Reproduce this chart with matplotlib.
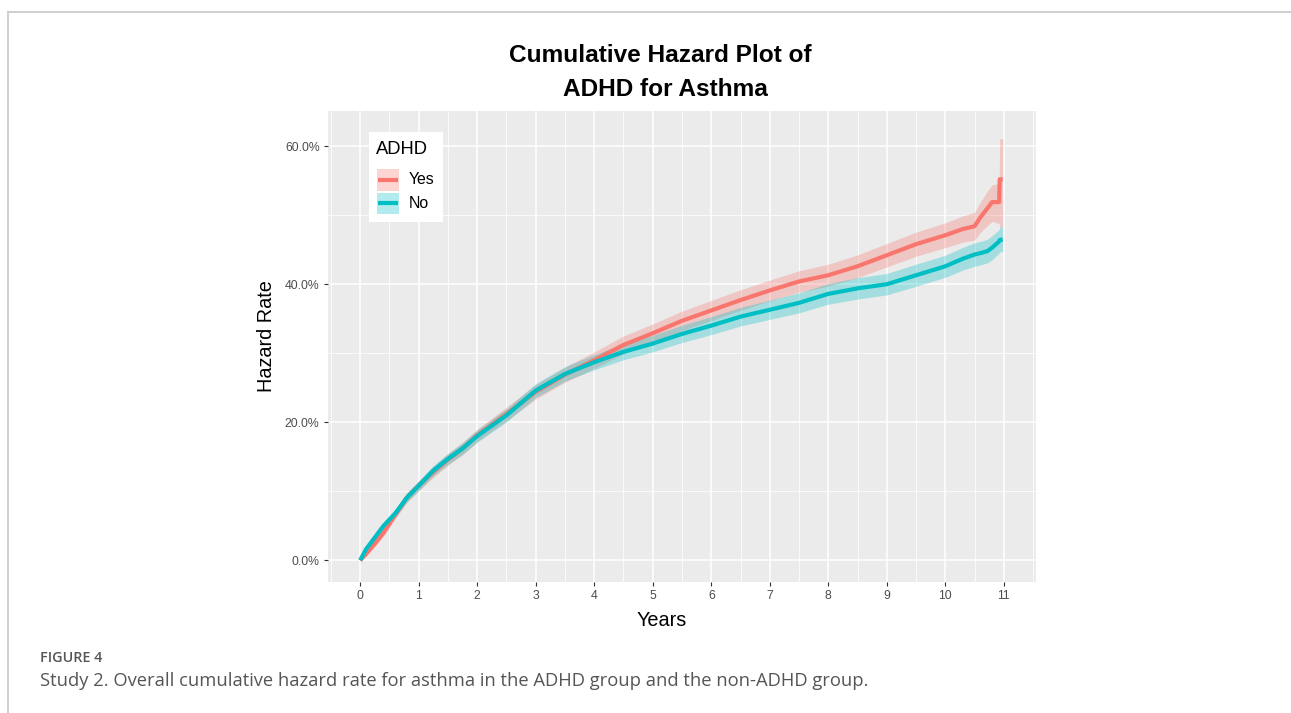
import numpy as np
import matplotlib
matplotlib.use("Agg")
import matplotlib.pyplot as plt
from matplotlib.patches import Rectangle
from matplotlib.lines import Line2D
from matplotlib.ticker import MultipleLocator, FuncFormatter

# -------------------------------------------------------
# Data (hazard in %)
# -------------------------------------------------------
years = [0, 0.1, 0.25, 0.4, 0.6, 0.8, 1.0, 1.25, 1.5, 1.75, 2.0, 2.5, 3.0, 3.5,
         4.0, 4.5, 5.0, 5.5, 6.0, 6.5, 7.0, 7.5, 8.0, 8.5, 9.0, 9.5, 10.0,
         10.3, 10.5, 10.6, 10.72, 10.8, 10.92, 10.93, 10.98]

yes_haz = [0, 0.9, 2.4, 4.0, 6.6, 9.1, 10.8, 12.8, 14.6, 16.2, 18.1, 21.2, 24.4, 26.9,
           29.0, 31.2, 32.9, 34.7, 36.2, 37.7, 39.1, 40.4, 41.3, 42.6, 44.2, 45.8, 47.1,
           48.0, 48.4, 49.7, 51.0, 51.9, 51.9, 55.2, 55.2]
yes_lo = [0, 0.6, 2.0, 3.5, 6.0, 8.4, 10.05, 12.0, 13.75, 15.3, 17.2, 20.2, 23.35, 25.8,
          27.8, 29.9, 31.55, 33.3, 34.75, 36.2, 37.6, 38.85, 39.7, 40.95, 42.5, 44.05, 45.3,
          46.1, 46.4, 47.5, 48.5, 49.1, 48.8, 48.3, 48.3]
yes_hi = [0, 1.2, 2.8, 4.5, 7.2, 9.8, 11.55, 13.6, 15.45, 17.1, 19.0, 22.2, 25.45, 28.0,
          30.2, 32.5, 34.25, 36.1, 37.65, 39.2, 40.6, 41.95, 42.9, 44.25, 45.9, 47.55, 48.9,
          49.9, 50.4, 51.9, 53.5, 54.4, 54.6, 61.1, 61.1]

no_haz = [0, 1.6, 3.3, 5.0, 6.8, 9.1, 10.8, 13.0, 14.7, 16.2, 18.0, 21.0, 24.6, 27.0,
          28.7, 30.2, 31.4, 32.8, 34.0, 35.3, 36.3, 37.3, 38.6, 39.4, 40.0, 41.3, 42.6,
          43.7, 44.3, 44.5, 44.8, 45.3, 46.2, 46.4, 46.5]
no_lo = [0, 1.3, 2.9, 4.5, 6.2, 8.45, 10.1, 12.25, 13.9, 15.35, 17.1, 20.05, 23.6, 25.95,
         27.6, 29.05, 30.2, 31.55, 32.7, 33.95, 34.9, 35.85, 37.1, 37.85, 38.45, 39.7, 41.0,
         42.05, 42.6, 42.8, 43.1, 43.55, 44.5, 44.7, 44.7]
no_hi = [0, 1.9, 3.7, 5.5, 7.4, 9.75, 11.5, 13.75, 15.5, 17.05, 18.9, 21.95, 25.6, 28.05,
         29.8, 31.35, 32.6, 34.05, 35.3, 36.65, 37.7, 38.75, 40.1, 40.95, 41.55, 42.9, 44.2,
         45.35, 46.0, 46.2, 46.5, 47.05, 47.9, 48.3, 48.3]

groups = ["Yes", "No"]
colors = ["#F8766D", "#00BFC4"]
x_ticks = list(range(0, 12))
y_ticks = [0, 20, 40, 60]

# -------------------------------------------------------
# Figure
# -------------------------------------------------------
W, H = 1291, 713
fig = plt.figure(figsize=(W / 100, H / 100), dpi=100)
plt.rcParams["font.family"] = ["Liberation Sans", "DejaVu Sans"]


def fx(px):
    return px / W


def fy(py):
    return 1 - py / H


# page frame (top and left rules)
fig.add_artist(Line2D([fx(7.5), 1], [fy(11.5), fy(11.5)], color="#cccccc", lw=1.3))
fig.add_artist(Line2D([fx(7.5), fx(7.5)], [fy(11.5), 0], color="#cccccc", lw=1.3))

ax = fig.add_axes([fx(328), fy(582), fx(1036) - fx(328), fy(111) - fy(582)])
ax.set_facecolor("#EBEBEB")
for s in ax.spines.values():
    s.set_visible(False)

ax.set_xlim(-0.55, 11.55)
ax.set_ylim(-3.15, 65.1)
ax.xaxis.set_major_locator(MultipleLocator(1))
ax.xaxis.set_minor_locator(MultipleLocator(0.5))
ax.set_yticks(y_ticks)
ax.yaxis.set_minor_locator(MultipleLocator(10))
ax.yaxis.set_major_formatter(FuncFormatter(lambda v, p: f"{v:.1f}%"))
ax.set_xticks(x_ticks)

ax.grid(which="major", color="white", lw=1.1)
ax.grid(which="minor", color="white", lw=0.55)
ax.set_axisbelow(True)
ax.tick_params(which="major", length=3, width=0.8, color="#333333",
               labelsize=8.8, labelcolor="#4D4D4D", pad=3)
ax.tick_params(which="minor", length=0)

# ribbons + lines
ax.fill_between(years, yes_lo, yes_hi, color=colors[0], alpha=0.3, lw=0)
ax.plot(years, yes_haz, color=colors[0], lw=3.0, solid_capstyle="butt")
ax.fill_between(years, no_lo, no_hi, color=colors[1], alpha=0.3, lw=0)
ax.plot(years, no_haz, color=colors[1], lw=3.0, solid_capstyle="butt")

# axis titles
fig.text(fx(662), fy(620), "Years", ha="center", va="center", fontsize=14.3)
fig.text(fx(267), fy(336), "Hazard Rate", ha="center", va="center",
         fontsize=14.3, rotation=90)

# title
fig.text(fx(660), fy(55), "Cumulative Hazard Plot of", ha="center", va="center",
         fontsize=17.6, fontweight="bold")
fig.text(fx(665), fy(90), "ADHD for Asthma", ha="center", va="center",
         fontsize=17.6, fontweight="bold")

# legend (ggplot style, inside the panel)
fig.add_artist(Rectangle((fx(369), fy(222)), fx(443) - fx(369), fy(132) - fy(222),
                         facecolor="white", edgecolor="none"))
fig.text(fx(376), fy(150), "ADHD", ha="left", va="center", fontsize=13.2)
key_top = [169, 192.5]
for i, g in enumerate(groups):
    t = key_top[i]
    fig.add_artist(Rectangle((fx(377), fy(t + 21.5)), fx(399) - fx(377), fy(t) - fy(t + 21.5),
                             facecolor=colors[i], alpha=0.3, edgecolor="none"))
    fig.add_artist(Line2D([fx(378), fx(398)], [fy(t + 10.75), fy(t + 10.75)],
                          color=colors[i], lw=3.0, solid_capstyle="butt"))
    fig.text(fx(409), fy(t + 11), g, ha="left", va="center", fontsize=11.4)

# caption
fig.text(fx(40), fy(658), "FIGURE 4", ha="left", va="center", fontsize=10.4,
         color="#555555", family=["Open Sans", "DejaVu Sans"], fontweight="semibold")
fig.text(fx(40), fy(681), "Study 2. Overall cumulative hazard rate for asthma in the ADHD group "
         "and the non-ADHD group.", ha="left", va="center", fontsize=13.2,
         color="#555555", family=["Open Sans", "DejaVu Sans"])

fig.savefig("out.png", dpi=100)
